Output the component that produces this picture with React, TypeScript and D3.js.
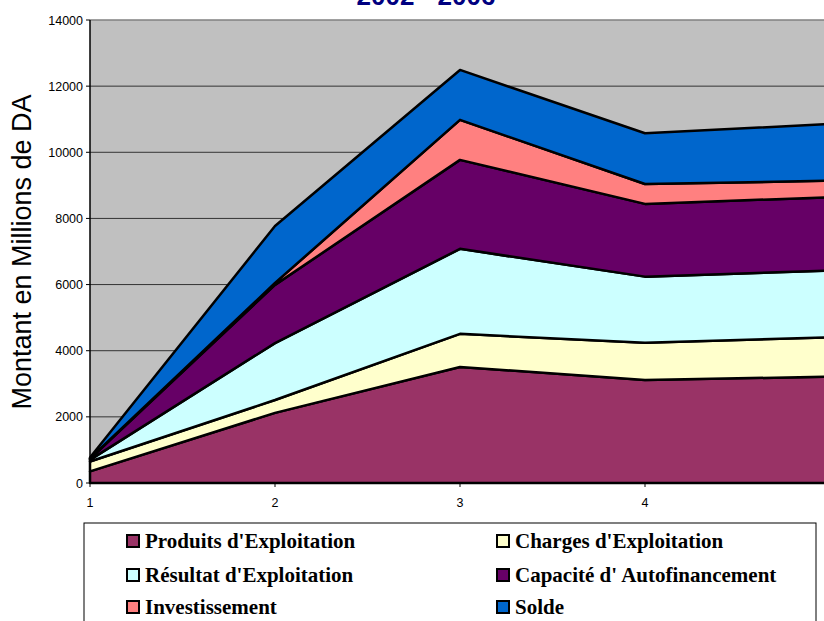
import React from "react";
import * as d3 from "d3";

const years = [1, 2, 3, 4, 5];
const seriesNames = [
  "Produits d'Exploitation",
  "Charges d'Exploitation",
  "Résultat d'Exploitation",
  "Capacité d' Autofinancement",
  "Investissement",
  "Solde",
];
const produits = [350, 2120, 3510, 3115, 3215];
const charges = [300, 390, 1000, 1125, 1190];
const resultat = [50, 1720, 2570, 2000, 2015];
const capacite = [30, 1760, 2690, 2200, 2220];
const investissement = [10, 60, 1210, 600, 500];
const solde = [30, 1720, 1510, 1535, 1715];
const yTicks = [0, 2000, 4000, 6000, 8000, 10000, 12000, 14000];
const xTicks = [1, 2, 3, 4];
const colors = ["#993366", "#FFFFCC", "#CCFFFF", "#660066", "#FF8080", "#0066CC"];

export default function App() {
  const values = [produits, charges, resultat, capacite, investissement, solde];
  const rows = years.map((yr, i) => {
    const r: any = { year: yr };
    seriesNames.forEach((n, k) => (r[n] = values[k][i]));
    return r;
  });
  const stacked = d3.stack().keys(seriesNames)(rows);
  const x = d3.scaleLinear().domain([1, 5]).range([90, 830]);
  const y = d3.scaleLinear().domain([0, 14000]).range([483, 20]);
  const area = d3
    .area<any>()
    .x((d) => x(d.data.year))
    .y0((d) => y(d[0]))
    .y1((d) => y(d[1]));

  const legendPos = [
    { x: 127, y: 541 },
    { x: 497, y: 541 },
    { x: 127, y: 575 },
    { x: 497, y: 575 },
    { x: 127, y: 607 },
    { x: 497, y: 607 },
  ];

  return (
    <div style={{ position: "absolute", left: 0, top: 0 }}>
      <svg width={824} height={621} style={{ display: "block", background: "#fff" }}>
        <text
          x={426}
          y={5}
          textAnchor="middle"
          fontFamily="Liberation Sans, Arial, sans-serif"
          fontWeight="bold"
          fontSize={26}
          fill="#000080"
        >
          2002 - 2006
        </text>
        <rect x={x(1)} y={y(14000)} width={x(5) - x(1)} height={y(0) - y(14000)} fill="#C0C0C0" />
        <line x1={x(1)} x2={x(5)} y1={y(14000)} y2={y(14000)} stroke="#808080" strokeWidth={1.5} />
        {yTicks.slice(1, -1).map((t) => (
          <line key={t} x1={x(1)} x2={x(5)} y1={y(t)} y2={y(t)} stroke="#333" strokeWidth={1} />
        ))}
        {stacked.map((s, i) => (
          <path key={s.key} d={area(s as any) || ""} fill={colors[i]} stroke="#000" strokeWidth={2.5} strokeLinejoin="round" />
        ))}
        <line x1={x(1)} x2={x(1)} y1={y(14000)} y2={y(0)} stroke="#000" strokeWidth={1.5} />
        <line x1={x(1)} x2={x(5)} y1={y(0)} y2={y(0)} stroke="#000" strokeWidth={1.5} />
        {yTicks.map((t) => (
          <g key={t}>
            <line x1={x(1) - 4} x2={x(1)} y1={y(t)} y2={y(t)} stroke="#000" />
            <text
              x={x(1) - 7}
              y={y(t) + 4.5}
              textAnchor="end"
              fontFamily="Liberation Sans, Arial, sans-serif"
              fontSize={12.5}
              fill="#000"
            >
              {t}
            </text>
          </g>
        ))}
        {xTicks.map((t) => (
          <g key={t}>
            <line x1={x(t)} x2={x(t)} y1={y(0)} y2={y(0) + 4} stroke="#000" />
            <text
              x={x(t)}
              y={507}
              textAnchor="middle"
              fontFamily="Liberation Sans, Arial, sans-serif"
              fontSize={12.5}
              fill="#000"
            >
              {t}
            </text>
          </g>
        ))}
        <text
          transform="translate(31,252) rotate(-90)"
          textAnchor="middle"
          fontFamily="Liberation Sans, Arial, sans-serif"
          fontSize={27}
          fill="#000"
        >
          Montant en Millions de DA
        </text>
        <rect x={84} y={523} width={732} height={120} fill="#fff" stroke="#000" strokeWidth={1} />
        {seriesNames.map((n, i) => (
          <g key={n}>
            <rect
              x={legendPos[i].x}
              y={legendPos[i].y - 6}
              width={12}
              height={12}
              fill={colors[i]}
              stroke="#000"
              strokeWidth={2}
            />
            <text
              x={legendPos[i].x + 18}
              y={legendPos[i].y + 7}
              fontFamily="Liberation Serif, Times New Roman, serif"
              fontWeight="bold"
              fontSize={21}
              fill="#000"
            >
              {n}
            </text>
          </g>
        ))}
      </svg>
    </div>
  );
}
